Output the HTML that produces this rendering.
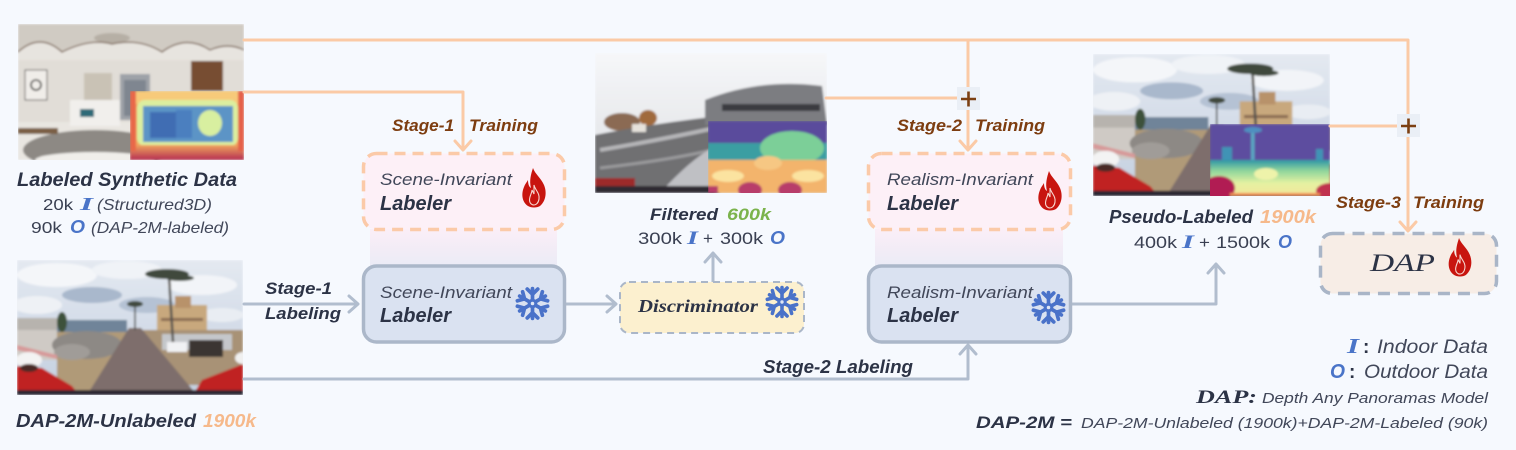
<!DOCTYPE html>
<html><head><meta charset="utf-8">
<style>
html,body{margin:0;padding:0;background:#f6f9fe;}
svg{display:block;}
text{font-family:"Liberation Sans",sans-serif;}
.bi{font-weight:bold;font-style:italic;fill:#2c3346;}
.br{font-weight:bold;font-style:italic;fill:#7d3d10;}
.it{font-style:italic;fill:#414759;}
.nm{fill:#3a4052;}
.bl{fill:#4a74c8;}
.sc{font-family:"Liberation Serif",serif;font-style:italic;fill:#2c3346;}
</style></head><body>
<svg width="1516" height="450" viewBox="0 0 1516 450" xmlns="http://www.w3.org/2000/svg">
<defs>
  <filter id="blr" x="-5%" y="-5%" width="110%" height="110%"><feGaussianBlur stdDeviation="1.1"/></filter>
  <clipPath id="cIn"><rect x="18" y="24" width="226" height="136"/></clipPath>
  <clipPath id="cInD"><rect x="130" y="91" width="114" height="69"/></clipPath>
  <clipPath id="cOut"><rect x="0" y="0" width="226" height="135"/></clipPath>
  <clipPath id="cFi"><rect x="595" y="53" width="232" height="140"/></clipPath>
  <clipPath id="cFiD"><rect x="708" y="121" width="119" height="72"/></clipPath>
  <clipPath id="cPsD"><rect x="1210" y="124" width="120" height="72"/></clipPath>
  <linearGradient id="gConn" x1="0" y1="0" x2="0" y2="1">
    <stop offset="0" stop-color="#fbeef7"/><stop offset="1" stop-color="#ebebf6"/>
  </linearGradient>
  <linearGradient id="gSky" x1="0" y1="0" x2="0" y2="1">
    <stop offset="0" stop-color="#e4e9f1"/><stop offset="1" stop-color="#c3cfdf"/>
  </linearGradient>
  <linearGradient id="gDepB" x1="0" y1="0" x2="0" y2="1">
    <stop offset="0" stop-color="#f0a45e"/><stop offset="1" stop-color="#b52e52"/>
  </linearGradient>
  <linearGradient id="gPsD" x1="0" y1="0" x2="0" y2="1">
    <stop offset="0" stop-color="#2e95a6"/><stop offset="0.3" stop-color="#8fd59c"/>
    <stop offset="0.65" stop-color="#e6f2a2"/><stop offset="1" stop-color="#f1e49a"/>
  </linearGradient>
  <linearGradient id="gFiTop" x1="0" y1="0" x2="0" y2="1">
    <stop offset="0" stop-color="#f6f7f9"/><stop offset="1" stop-color="#dcdee2"/>
  </linearGradient>
  <symbol id="fire" viewBox="0 0 26 40">
    <path d="M12,0 C14,6 20,10 23,17 C26,24 25,33 19,38 C16,40 10,40 7,38 C1,34 0,26 3,19 C4,16 6,14 7,12 C7,16 8,19 10,20 C8,13 10,6 12,0 Z" fill="#c8150f"/>
    <path d="M13,17 C14,22 19,25 18,31 C17.5,35 15,37 13,37 C10.5,37 8.5,35 8.5,32 C8.5,28 11,25 11,22 C12,24 12.5,25 13,26 C13,23 13,20 13,17 Z" fill="#c8150f" stroke="#f7d6cf" stroke-width="1.1"/>
  </symbol>
  <g id="arm">
    <line x1="0" y1="-4" x2="0" y2="-17"/>
    <polyline points="-6,-16.5 0,-10.5 6,-16.5" fill="none"/>
  </g>
  <symbol id="snow" viewBox="-20 -20 40 40">
    <g stroke="#4a72c9" stroke-width="4.2" stroke-linecap="round" stroke-linejoin="round">
      <use href="#arm"/>
      <use href="#arm" transform="rotate(60)"/>
      <use href="#arm" transform="rotate(120)"/>
      <use href="#arm" transform="rotate(180)"/>
      <use href="#arm" transform="rotate(240)"/>
      <use href="#arm" transform="rotate(300)"/>
    </g>
    <circle r="5.5" fill="#4a72c9"/>
    <circle r="2" fill="#dfe6f4"/>
  </symbol>
  <symbol id="outdoor" viewBox="0 0 226 135" preserveAspectRatio="none">
    <g clip-path="url(#cOut)"><g filter="url(#blr)">
      <rect width="226" height="135" fill="url(#gSky)"/>
      <ellipse cx="40" cy="15" rx="40" ry="12" fill="#f4f6f9"/>
      <ellipse cx="110" cy="10" rx="35" ry="9" fill="#f0f3f7"/>
      <ellipse cx="75" cy="35" rx="30" ry="8" fill="#a9b8cc"/>
      <ellipse cx="20" cy="45" rx="25" ry="9" fill="#eef1f5"/>
      <ellipse cx="185" cy="25" rx="35" ry="10" fill="#f2f4f8"/>
      <ellipse cx="130" cy="45" rx="28" ry="8" fill="#b5c2d4"/>
      <ellipse cx="205" cy="55" rx="22" ry="7" fill="#e9edf3"/>
      <rect x="40" y="60" width="70" height="14" fill="#6f8499"/>
      <rect x="0" y="58" width="40" height="14" fill="#b7b3ae"/>
      <rect x="140" y="45" width="50" height="32" fill="#c8a87d"/>
      <rect x="158" y="36" width="16" height="12" fill="#b8926a"/>
      <rect x="144" y="58" width="42" height="3" fill="#8b6c52"/>
      <rect x="0" y="70" width="40" height="30" fill="#cfcac5"/>
      <rect x="40" y="72" width="80" height="60" fill="#b09a78"/>
      <rect x="120" y="70" width="106" height="55" fill="#a89276"/>
      <ellipse cx="70" cy="85" rx="35" ry="14" fill="#8d8985"/>
      <ellipse cx="55" cy="92" rx="18" ry="8" fill="#a09c98"/>
      <path d="M112,68 L124,68 L180,135 L70,135 Z" fill="#7e6e6c"/>
      <rect x="145" y="74" width="70" height="16" fill="#c5c7cb"/>
      <rect x="150" y="82" width="20" height="10" fill="#f1f2f4"/>
      <rect x="172" y="80" width="34" height="17" fill="#3b3531"/>
      <path d="M0,85 L40,95 L40,99 L0,90 Z" fill="#d79a9a"/>
      <line x1="156" y1="82" x2="152" y2="16" stroke="#55524f" stroke-width="2.5"/>
      <ellipse cx="150" cy="14" rx="22" ry="5" fill="#3f4a3c"/>
      <ellipse cx="163" cy="18" rx="14" ry="3" fill="#3f4a3c"/>
      <line x1="118" y1="70" x2="118" y2="45" stroke="#4a4a44" stroke-width="1.5"/>
      <ellipse cx="118" cy="44" rx="8" ry="3" fill="#3f4a3c"/>
      <ellipse cx="45" cy="62" rx="5" ry="10" fill="#3e513a"/>
      <path d="M0,106 L25,108 L55,126 L62,135 L0,135 Z" fill="#c02420"/>
      <ellipse cx="12" cy="100" rx="13" ry="8" fill="#f3f3f3"/>
      <ellipse cx="12" cy="108" rx="9" ry="4" fill="#4a2a25"/>
      <path d="M185,120 L226,104 L226,135 L176,135 Z" fill="#c02420"/>
      <ellipse cx="226" cy="98" rx="8" ry="6" fill="#f0f0f0"/>
      <rect x="0" y="130" width="226" height="5" fill="#2b2630"/>
    </g></g>
  </symbol>
</defs>

<rect width="1516" height="450" fill="#f6f9fe"/>

<!-- ===== Indoor labeled image ===== -->
<g clip-path="url(#cIn)"><g filter="url(#blr)">
  <rect x="18" y="24" width="226" height="136" fill="#dcd8d1"/>
  <rect x="18" y="24" width="226" height="30" fill="#d0cbc3"/>
  <ellipse cx="112" cy="38" rx="18" ry="5" fill="#b6afa5"/>
  <path d="M18,52 Q40,32 62,52 Q90,38 112,44 Q140,38 162,52 Q186,34 210,50 Q228,42 244,50 L244,62 L18,62Z" fill="#e7e4df"/>
  <path d="M18,52 Q40,32 62,52 Q90,38 112,44 Q140,38 162,52 Q186,34 210,50 Q228,42 244,50" fill="none" stroke="#6e5240" stroke-width="1.2"/>
  <rect x="18" y="60" width="226" height="62" fill="#e1ddd7"/>
  <rect x="25" y="70" width="22" height="30" fill="#f0ede9" stroke="#4a4644" stroke-width="1"/>
  <circle cx="36" cy="85" r="5" stroke="#2c2a28" stroke-width="1.6" fill="none"/>
  <rect x="84" y="73" width="28" height="28" fill="#c9c2b5"/>
  <rect x="120" y="74" width="30" height="46" fill="#9ea2a8"/>
  <rect x="124" y="80" width="22" height="36" fill="#7f8690"/>
  <rect x="191" y="61" width="32" height="30" fill="#774d30"/>
  <rect x="18" y="122" width="226" height="38" fill="#e9e6e1"/>
  <rect x="70" y="100" width="50" height="26" fill="#f1efec"/>
  <rect x="80" y="109" width="14" height="8" fill="#2f6a78"/>
  <ellipse cx="95" cy="150" rx="72" ry="20" fill="#8d8984"/>
  <ellipse cx="95" cy="160" rx="60" ry="8" fill="#f0eeea"/>
  <rect x="18" y="128" width="40" height="6" fill="#7a5f45"/>
  <rect x="160" y="125" width="30" height="10" fill="#8a6b4a"/>
</g></g>
<g clip-path="url(#cInD)"><g filter="url(#blr)">
  <rect x="130" y="91" width="114" height="69" fill="#f2a65e"/>
  <rect x="130" y="91" width="114" height="13" fill="#f7ca7a"/>
  <rect x="137" y="100" width="101" height="46" rx="8" fill="#dcef9f"/>
  <rect x="143" y="106" width="90" height="36" fill="#5b94c6"/>
  <rect x="150" y="112" width="26" height="26" fill="#3f6db3"/>
  <rect x="176" y="110" width="16" height="28" fill="#4b7fbf"/>
  <ellipse cx="210" cy="123" rx="12" ry="13" fill="#d8efa0"/>
  <rect x="130" y="145" width="114" height="15" fill="url(#gDepB)"/>
  <rect x="130" y="91" width="6" height="60" fill="#e8674a"/>
  <rect x="238" y="91" width="6" height="60" fill="#e5604a"/>
</g></g>

<!-- ===== Outdoor unlabeled image ===== -->
<use href="#outdoor" x="17" y="260" width="226" height="135"/>

<!-- ===== Filtered image ===== -->
<g clip-path="url(#cFi)"><g filter="url(#blr)">
  <rect x="595" y="53" width="232" height="140" fill="url(#gFiTop)"/>
  <ellipse cx="622" cy="122" rx="18" ry="9" fill="#8b6a52"/>
  <ellipse cx="648" cy="118" rx="9" ry="8" fill="#a06a3c"/>
  <path d="M595,135 Q650,124 720,116 L720,193 L595,193 Z" fill="#707072"/>
  <path d="M600,150 Q660,140 715,128" stroke="#b5b5b8" stroke-width="4" fill="none"/>
  <path d="M600,168 Q670,160 712,150" stroke="#9a9a9c" stroke-width="3" fill="none"/>
  <path d="M660,193 Q690,160 712,148 L712,193Z" fill="#bfc0c4"/>
  <rect x="632" y="124" width="14" height="8" fill="#e6e2dc"/>
  <path d="M705,100 Q760,78 822,86 L827,125 L705,125 Z" fill="#7c7d81"/>
  <rect x="722" y="104" width="98" height="7" fill="#3a3b3f"/>
  <rect x="595" y="178" width="40" height="15" fill="#9c2a2a"/>
  <rect x="595" y="186" width="120" height="7" fill="#2e2c33"/>
</g></g>
<g clip-path="url(#cFiD)"><g filter="url(#blr)">
  <rect x="708" y="121" width="119" height="72" fill="#5a4b9c"/>
  <rect x="708" y="143" width="119" height="20" fill="#3a9ea2"/>
  <ellipse cx="792" cy="148" rx="32" ry="17" fill="#7ccf98"/>
  <rect x="708" y="160" width="119" height="33" fill="#f3b46c"/>
  <ellipse cx="728" cy="176" rx="16" ry="6" fill="#fbe3a0"/>
  <ellipse cx="808" cy="176" rx="16" ry="6" fill="#fbe3a0"/>
  <ellipse cx="768" cy="163" rx="14" ry="7" fill="#f6c783"/>
  <ellipse cx="750" cy="190" rx="12" ry="8" fill="#b83c6a"/>
  <ellipse cx="790" cy="190" rx="12" ry="8" fill="#b83c6a"/>
  <rect x="708" y="186" width="10" height="7" fill="#b83c6a"/>
</g></g>

<!-- ===== Pseudo-labeled image ===== -->
<use href="#outdoor" x="1093" y="54" width="237" height="142"/>
<g clip-path="url(#cPsD)"><g filter="url(#blr)">
  <rect x="1210" y="124" width="120" height="72" fill="#5d4d9f"/>
  <rect x="1251" y="127" width="3.5" height="38" fill="#5aa6c2"/>
  <ellipse cx="1253" cy="130" rx="9" ry="3" fill="#4f8fc0"/>
  <rect x="1222" y="147" width="10" height="14" fill="#3f93b5"/>
  <rect x="1316" y="149" width="7" height="13" fill="#3f93b5"/>
  <rect x="1210" y="160" width="120" height="36" fill="url(#gPsD)"/>
  <ellipse cx="1266" cy="174" rx="12" ry="6" fill="#eef3aa"/>
  <ellipse cx="1219" cy="188" rx="16" ry="12" fill="#b11f52"/>
  <ellipse cx="1330" cy="191" rx="14" ry="8" fill="#c0304f"/>
  <rect x="1230" y="193" width="90" height="3" fill="#f09055"/>
</g></g>

<!-- ===== Orange connectors ===== -->
<g stroke="#fbcaa6" stroke-width="3" fill="none" stroke-linecap="round" stroke-linejoin="round">
  <path d="M244,40 H1408 V229"/>
  <polyline points="1400,222 1408,231 1416,222"/>
  <path d="M968,40 V148"/>
  <polyline points="960,141 968,150 976,141"/>
  <path d="M244,92 H463 V148"/>
  <polyline points="455,141 463,150 471,141"/>
  <path d="M826,98 H968"/>
  <path d="M1330,126 H1408"/>
</g>
<rect x="957" y="87" width="23" height="23" fill="#eaeff6"/>
<rect x="1397" y="114" width="23" height="23" fill="#eaeff6"/>
<g stroke="#7b3f12" stroke-width="2.6">
  <path d="M961,99 H976 M968.5,91.5 V106.5"/>
  <path d="M1401,126 H1416 M1408.5,118.5 V133.5"/>
</g>

<!-- ===== Gray connectors ===== -->
<g stroke="#b1bdce" stroke-width="3" fill="none" stroke-linecap="round" stroke-linejoin="round">
  <path d="M244,304 H357"/>
  <polyline points="349,296 358,304 349,312"/>
  <path d="M566,304 H615"/>
  <polyline points="607,296 616,304 607,312"/>
  <path d="M713,282 V254"/>
  <polyline points="705,262 713,253 721,262"/>
  <path d="M244,379 H968 V347"/>
  <polyline points="960,354 968,345 976,354"/>
  <path d="M1072,304 H1216 V265"/>
  <polyline points="1208,273 1216,264 1224,273"/>
</g>

<!-- ===== Stage-1 boxes ===== -->
<rect x="370" y="229" width="187" height="37" fill="url(#gConn)"/>
<rect x="363.5" y="153.5" width="201" height="76" rx="13" fill="#fdf0f7" stroke="#fbcaa8" stroke-width="3.5" stroke-dasharray="11 7"/>
<rect x="363.5" y="266" width="201" height="76" rx="13" fill="#dae2f1" stroke="#abb7c9" stroke-width="3.5"/>
<use href="#fire" x="521" y="168" width="26" height="40"/>
<use href="#snow" x="515" y="286" width="35" height="35"/>

<!-- ===== Stage-2 boxes ===== -->
<rect x="875" y="229" width="188" height="37" fill="url(#gConn)"/>
<rect x="868.5" y="153.5" width="202" height="76" rx="13" fill="#fdf0f7" stroke="#fbcaa8" stroke-width="3.5" stroke-dasharray="11 7"/>
<rect x="868.5" y="266" width="202" height="76" rx="13" fill="#dae2f1" stroke="#abb7c9" stroke-width="3.5"/>
<use href="#fire" x="1037" y="171" width="26" height="40"/>
<use href="#snow" x="1031" y="290" width="35" height="35"/>

<!-- ===== Discriminator ===== -->
<rect x="620" y="282" width="184" height="51" rx="9" fill="#fcf0cf" stroke="#aab6c8" stroke-width="2" stroke-dasharray="7 5"/>
<use href="#snow" x="765" y="285" width="34" height="34"/>

<!-- ===== DAP box ===== -->
<rect x="1320.5" y="233.5" width="176" height="60" rx="12" fill="#f7ede6" stroke="#a9b5c7" stroke-width="3.5" stroke-dasharray="12 8"/>
<use href="#fire" x="1447" y="238" width="26" height="39"/>

<!-- ===== Texts ===== -->
<text class="bi" x="17" y="186" font-size="19" textLength="220" lengthAdjust="spacingAndGlyphs">Labeled Synthetic Data</text>
<text class="nm" x="43" y="210" font-size="16" textLength="30" lengthAdjust="spacingAndGlyphs">20k</text>
<text class="bl" x="80" y="210" font-size="18" font-family="Liberation Serif" font-style="italic" font-weight="bold" textLength="13" lengthAdjust="spacingAndGlyphs" style="font-family:'Liberation Serif',serif">I</text>
<text class="it" x="97" y="210" font-size="16" textLength="115" lengthAdjust="spacingAndGlyphs">(Structured3D)</text>
<text class="nm" x="31" y="233" font-size="16" textLength="31" lengthAdjust="spacingAndGlyphs">90k</text>
<text class="bl" x="70" y="233" font-size="18" font-style="italic" font-weight="bold" textLength="15" lengthAdjust="spacingAndGlyphs">O</text>
<text class="it" x="91" y="233" font-size="16" textLength="138" lengthAdjust="spacingAndGlyphs">(DAP-2M-labeled)</text>

<text class="bi" x="16" y="427" font-size="18" textLength="180" lengthAdjust="spacingAndGlyphs">DAP-2M-Unlabeled</text>
<text x="203" y="427" font-size="18" font-weight="bold" font-style="italic" fill="#f6b98b" textLength="53" lengthAdjust="spacingAndGlyphs">1900k</text>

<text class="bi" x="265" y="294" font-size="17" textLength="67" lengthAdjust="spacingAndGlyphs">Stage-1</text>
<text class="bi" x="265" y="319" font-size="17" textLength="76" lengthAdjust="spacingAndGlyphs">Labeling</text>

<text class="br" x="392" y="131" font-size="17" textLength="62" lengthAdjust="spacingAndGlyphs">Stage-1</text>
<text class="br" x="469" y="131" font-size="17" textLength="69" lengthAdjust="spacingAndGlyphs">Training</text>

<text class="it" x="380" y="185" font-size="17" textLength="132" lengthAdjust="spacingAndGlyphs">Scene-Invariant</text>
<text class="bi" x="380" y="210" font-size="20" textLength="71" lengthAdjust="spacingAndGlyphs">Labeler</text>
<text class="it" x="380" y="298" font-size="17" textLength="132" lengthAdjust="spacingAndGlyphs">Scene-Invariant</text>
<text class="bi" x="380" y="322" font-size="20" textLength="71" lengthAdjust="spacingAndGlyphs">Labeler</text>

<text class="bi" x="650" y="220" font-size="17" textLength="68" lengthAdjust="spacingAndGlyphs">Filtered</text>
<text x="727" y="220" font-size="17" font-weight="bold" font-style="italic" fill="#7bb34c" textLength="44" lengthAdjust="spacingAndGlyphs">600k</text>
<text class="nm" x="638" y="244" font-size="17" textLength="44" lengthAdjust="spacingAndGlyphs">300k</text>
<text class="bl" x="687" y="244" font-size="19" font-style="italic" font-weight="bold" textLength="11" lengthAdjust="spacingAndGlyphs" style="font-family:'Liberation Serif',serif">I</text>
<text class="nm" x="703" y="244" font-size="17" textLength="10" lengthAdjust="spacingAndGlyphs">+</text>
<text class="nm" x="720" y="244" font-size="17" textLength="43" lengthAdjust="spacingAndGlyphs">300k</text>
<text class="bl" x="770" y="244" font-size="18" font-style="italic" font-weight="bold" textLength="15" lengthAdjust="spacingAndGlyphs">O</text>

<text class="sc" x="638" y="312" font-size="18" font-weight="bold" textLength="120" lengthAdjust="spacingAndGlyphs">Discriminator</text>

<text class="br" x="897" y="131" font-size="17" textLength="65" lengthAdjust="spacingAndGlyphs">Stage-2</text>
<text class="br" x="975" y="131" font-size="17" textLength="70" lengthAdjust="spacingAndGlyphs">Training</text>

<text class="it" x="887" y="185" font-size="17" textLength="146" lengthAdjust="spacingAndGlyphs">Realism-Invariant</text>
<text class="bi" x="887" y="210" font-size="20" textLength="71" lengthAdjust="spacingAndGlyphs">Labeler</text>
<text class="it" x="887" y="298" font-size="17" textLength="146" lengthAdjust="spacingAndGlyphs">Realism-Invariant</text>
<text class="bi" x="887" y="322" font-size="20" textLength="71" lengthAdjust="spacingAndGlyphs">Labeler</text>

<text class="bi" x="763" y="373" font-size="18" textLength="150" lengthAdjust="spacingAndGlyphs">Stage-2 Labeling</text>

<text class="bi" x="1109" y="223" font-size="18" textLength="144" lengthAdjust="spacingAndGlyphs">Pseudo-Labeled</text>
<text x="1260" y="223" font-size="18" font-weight="bold" font-style="italic" fill="#f6b98b" textLength="56" lengthAdjust="spacingAndGlyphs">1900k</text>
<text class="nm" x="1134" y="248" font-size="17" textLength="43" lengthAdjust="spacingAndGlyphs">400k</text>
<text class="bl" x="1182" y="248" font-size="19" font-style="italic" font-weight="bold" textLength="12" lengthAdjust="spacingAndGlyphs" style="font-family:'Liberation Serif',serif">I</text>
<text class="nm" x="1199" y="248" font-size="17" textLength="11" lengthAdjust="spacingAndGlyphs">+</text>
<text class="nm" x="1216" y="248" font-size="17" textLength="54" lengthAdjust="spacingAndGlyphs">1500k</text>
<text class="bl" x="1278" y="248" font-size="18" font-style="italic" font-weight="bold" textLength="14" lengthAdjust="spacingAndGlyphs">O</text>

<text class="br" x="1336" y="208" font-size="17" textLength="65" lengthAdjust="spacingAndGlyphs">Stage-3</text>
<text class="br" x="1413" y="208" font-size="17" textLength="71" lengthAdjust="spacingAndGlyphs">Training</text>

<text class="sc" x="1370" y="271" font-size="25" textLength="65" lengthAdjust="spacingAndGlyphs">DAP</text>

<!-- Legend -->
<text class="bl" x="1347" y="353" font-size="21" font-style="italic" font-weight="bold" textLength="12" lengthAdjust="spacingAndGlyphs" style="font-family:'Liberation Serif',serif">I</text>
<text x="1363" y="353" font-size="19" font-weight="bold" fill="#2c3346">:</text>
<text class="it" x="1377" y="353" font-size="19" textLength="111" lengthAdjust="spacingAndGlyphs">Indoor Data</text>
<text class="bl" x="1330" y="378" font-size="20" font-style="italic" font-weight="bold" textLength="15" lengthAdjust="spacingAndGlyphs">O</text>
<text x="1349" y="378" font-size="19" font-weight="bold" fill="#2c3346">:</text>
<text class="it" x="1364" y="378" font-size="19" textLength="124" lengthAdjust="spacingAndGlyphs">Outdoor Data</text>
<text class="sc" x="1196" y="403" font-size="19" font-weight="bold" textLength="61" lengthAdjust="spacingAndGlyphs">DAP:</text>
<text class="it" x="1262" y="403" font-size="15" textLength="226" lengthAdjust="spacingAndGlyphs">Depth Any Panoramas Model</text>
<text class="bi" x="976" y="428" font-size="17" textLength="96" lengthAdjust="spacingAndGlyphs">DAP-2M =</text>
<text class="it" x="1081" y="428" font-size="15" textLength="407" lengthAdjust="spacingAndGlyphs">DAP-2M-Unlabeled (1900k)+DAP-2M-Labeled (90k)</text>
</svg>
</body></html>
